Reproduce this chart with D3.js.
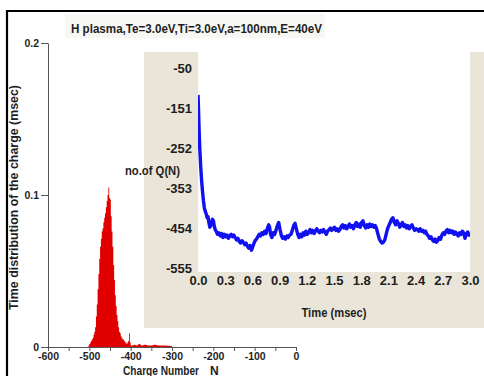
<!DOCTYPE html>
<html><head><meta charset="utf-8">
<script src="https://cdn.jsdelivr.net/npm/d3@7/dist/d3.min.js"></script>
<style>
body{margin:0;background:#fff}
svg{display:block}
text{font-family:"Liberation Sans Narrow","Arial Narrow","Liberation Sans",Arial,sans-serif;font-weight:bold;fill:#1e1e1e}
</style></head>
<body><svg id="c" width="484" height="376"></svg>
<script>
// ---- main histogram data (charge number N, time distribution in msec) ----
const histBins = [-504,-502,-500,-498,-496,-494,-492,-490,-488,-486,-484,-482,-480,-478,-476,-474,-472,-470,-468,-466,-464,-462,-460,-458,-456,-454,-452,-450,-448,-446,-444,-442,-440,-438,-436,-434,-432,-430,-428,-426,-424,-422,-420,-418,-416,-414,-412,-410,-408,-406,-404,-402,-400,-398,-396,-392,-386,-380,-374,-366,-358,-350,-342,-334,-326,-318,-310,-302];
const histValues = [0.000,0.001,0.002,0.003,0.004,0.005,0.006,0.008,0.010,0.013,0.020,0.028,0.038,0.048,0.058,0.066,0.071,0.076,0.078,0.082,0.085,0.088,0.092,0.096,0.100,0.105,0.098,0.097,0.086,0.076,0.066,0.054,0.044,0.034,0.027,0.021,0.017,0.013,0.010,0.009,0.007,0.006,0.005,0.005,0.004,0.003,0.003,0.002,0.003,0.004,0.009,0.003,0.001,0.001,0.001,0.0015,0.001,0.002,0.001,0.0015,0.001,0.001,0.0015,0.001,0.001,0.001,0.0008,0.0006];
const histBinWidth = 2;
const histXTicks = [-600,-500,-400,-300,-200,-100,0];
const histXMinor = [-550,-450,-350,-250,-150,-50];
const histYTicks = [0,0.1,0.2];

// ---- inset: no. of Q(N) vs time ----
const times = [0.000,0.005,0.010,0.015,0.020,0.030,0.040,0.050,0.060,0.070,0.080,0.090,0.100,0.110,0.120,0.130,0.140,0.150,0.160,0.170,0.180,0.190,0.200,0.215,0.230,0.245,0.260,0.275,0.290,0.305,0.320,0.335,0.350,0.365,0.380,0.395,0.410,0.425,0.440,0.455,0.470,0.485,0.500,0.515,0.530,0.545,0.560,0.575,0.590,0.600,0.615,0.630,0.645,0.660,0.675,0.690,0.705,0.720,0.735,0.750,0.765,0.780,0.790,0.800,0.815,0.830,0.845,0.860,0.875,0.890,0.905,0.920,0.935,0.950,0.965,0.980,0.995,1.010,1.025,1.040,1.055,1.070,1.085,1.100,1.115,1.130,1.145,1.160,1.175,1.190,1.205,1.220,1.235,1.250,1.265,1.280,1.295,1.310,1.325,1.340,1.355,1.370,1.385,1.400,1.415,1.430,1.445,1.460,1.475,1.490,1.505,1.520,1.535,1.550,1.565,1.580,1.595,1.610,1.625,1.640,1.655,1.670,1.685,1.700,1.715,1.730,1.745,1.760,1.775,1.790,1.805,1.820,1.835,1.850,1.865,1.880,1.895,1.910,1.925,1.940,1.955,1.970,1.985,2.000,2.015,2.030,2.045,2.060,2.075,2.090,2.105,2.120,2.135,2.150,2.165,2.180,2.195,2.210,2.225,2.240,2.255,2.270,2.285,2.300,2.315,2.330,2.345,2.360,2.375,2.390,2.405,2.420,2.435,2.450,2.465,2.480,2.495,2.510,2.525,2.540,2.555,2.570,2.585,2.600,2.615,2.630,2.645,2.660,2.675,2.690,2.705,2.720,2.735,2.750,2.765,2.780,2.795,2.810,2.825,2.840,2.855,2.870,2.885,2.900,2.915,2.930,2.945,2.960,2.975,2.990,3.000];
const charges = [-118,-150,-190,-225,-255,-300,-335,-362,-385,-403,-412,-418,-428,-425,-440,-452,-448,-440,-432,-436,-450,-458,-462,-470,-466,-474,-468,-478,-470,-476,-472,-480,-474,-470,-476,-472,-478,-484,-480,-488,-492,-486,-490,-496,-492,-500,-505,-498,-510,-504,-494,-486,-482,-476,-470,-474,-466,-470,-462,-468,-455,-446,-452,-470,-478,-466,-470,-460,-448,-440,-458,-474,-480,-476,-482,-474,-478,-472,-470,-460,-448,-442,-456,-470,-478,-470,-476,-466,-472,-462,-470,-466,-458,-466,-460,-468,-462,-456,-462,-466,-460,-464,-458,-464,-470,-462,-458,-454,-460,-456,-452,-460,-456,-462,-458,-450,-446,-454,-448,-456,-450,-444,-452,-448,-456,-446,-440,-450,-444,-452,-440,-436,-448,-454,-446,-452,-444,-450,-446,-452,-448,-456,-470,-482,-488,-492,-490,-484,-470,-456,-448,-440,-432,-428,-440,-446,-436,-442,-452,-446,-440,-450,-446,-454,-448,-456,-450,-446,-454,-460,-456,-458,-462,-456,-462,-460,-466,-462,-470,-474,-480,-476,-484,-488,-482,-490,-486,-478,-482,-472,-466,-470,-462,-458,-466,-460,-466,-462,-470,-464,-470,-474,-466,-470,-462,-466,-480,-470,-464,-472,-466,-468];
const insetXTicks = [0,0.3,0.6,0.9,1.2,1.5,1.8,2.1,2.4,2.7,3.0];
const insetYTicks = [-50,-151,-252,-353,-454,-555];

const svg = d3.select("#c");
const hy = d => String(d).replace("\u2212","-");

// outer frame (left + top)
svg.append("line").attr("x1",7).attr("y1",10).attr("x2",7).attr("y2",376).attr("stroke","#000").attr("stroke-width",2.2);
svg.append("line").attr("x1",6).attr("y1",11).attr("x2",484).attr("y2",11).attr("stroke","#000").attr("stroke-width",2.2);

// title box
svg.append("rect").attr("x",65).attr("y",14).attr("width",260).attr("height",24).attr("fill","#f7f7f4");
svg.append("text").attr("x",71).attr("y",32.5).attr("font-size",13)
  .attr("textLength",251).attr("lengthAdjust","spacingAndGlyphs")
  .text("H plasma,Te=3.0eV,Ti=3.0eV,a=100nm,E=40eV");

// ---- main histogram ----
const xMain = d3.scaleLinear().domain([-600,0]).range([48,296]);
const yMain = d3.scaleLinear().domain([0,0.2]).range([347,43]);

const histData = histBins.map((b,i)=>({b,v:histValues[i]}));
// bars as a continuous step outline (avoids hairline gaps between narrow bars)
const stepPts = [];
histData.forEach(d=>{ stepPts.push([d.b,d.v]); stepPts.push([d.b+histBinWidth,d.v]); });
svg.append("path").datum(stepPts)
  .attr("d",d3.area().x(d=>xMain(d[0])).y0(yMain(0)).y1(d=>yMain(d[1])))
  .attr("fill","#e00000");

const gy = svg.append("g").attr("transform","translate(48,0)")
  .call(d3.axisLeft(yMain).tickValues(histYTicks).tickSize(7).tickSizeOuter(0).tickPadding(2)
    .tickFormat(d=>d===0?"0":d3.format(".1f")(d)));
const gx = svg.append("g").attr("transform","translate(0,347)")
  .call(d3.axisBottom(xMain).tickValues(histXTicks).tickSize(4).tickSizeOuter(0).tickPadding(2).tickFormat(hy));
svg.append("g").attr("transform","translate(0,347)")
  .call(d3.axisBottom(xMain).tickValues(histXMinor).tickSize(4).tickFormat(""))
  .select(".domain").remove();
svg.selectAll(".domain, .tick line").attr("stroke","#555");
gy.selectAll("text").attr("font-size",10.5).attr("font-family",null);
gx.selectAll("text").attr("font-size",10.5).attr("font-family",null);

svg.append("text").attr("transform","translate(18,197.5) rotate(-90)")
  .attr("text-anchor","middle").attr("font-size",12.5).attr("fill","#333")
  .attr("textLength",225).attr("lengthAdjust","spacingAndGlyphs")
  .text("Time distribution of the charge (msec)");
svg.append("text").attr("x",123).attr("y",374.5).attr("font-size",12)
  .attr("textLength",76).attr("lengthAdjust","spacingAndGlyphs").text("Charge Number");
svg.append("text").attr("x",210).attr("y",374.5).attr("font-size",12).text("N");

// ---- inset ----
svg.append("rect").attr("x",144).attr("y",52).attr("width",340).attr("height",276).attr("fill","#e9e5d8");
svg.append("rect").attr("x",198).attr("y",52).attr("width",272).attr("height",220).attr("fill","#ffffff");

const xIn = d3.scaleLinear().domain([0,3]).range([198,470]);
const yIn = d3.scaleLinear().domain([-555,-50]).range([268,68]);

svg.append("defs").append("clipPath").attr("id","clipIn")
  .append("rect").attr("x",198).attr("y",52).attr("width",272).attr("height",220);

svg.append("path").datum(times.map((t,i)=>[t,charges[i]]))
  .attr("clip-path","url(#clipIn)")
  .attr("d",d3.line().x(d=>xIn(d[0])).y(d=>yIn(d[1])))
  .attr("fill","none").attr("stroke","#1010f0").attr("stroke-width",3.4).attr("stroke-linejoin","round");

const giy = svg.append("g").attr("transform","translate(198,0)")
  .call(d3.axisLeft(yIn).tickValues(insetYTicks).tickSize(2).tickPadding(4).tickFormat(hy));
giy.select(".domain").remove();
giy.selectAll(".tick line").attr("stroke","#ddd");
giy.selectAll("text").attr("font-size",13).attr("font-family",null);

const gix = svg.append("g").attr("transform","translate(0,272)")
  .call(d3.axisBottom(xIn).tickValues(insetXTicks).tickSize(0).tickPadding(4).tickFormat(d3.format(".1f")));
gix.select(".domain").remove();
gix.selectAll("text").attr("font-size",13).attr("font-family",null);

svg.append("text").attr("x",334).attr("y",317).attr("text-anchor","middle").attr("font-size",13.5)
  .attr("textLength",65).attr("lengthAdjust","spacingAndGlyphs").text("Time (msec)");
svg.append("text").attr("x",125).attr("y",174.5).attr("font-size",12.5)
  .attr("textLength",55).attr("lengthAdjust","spacingAndGlyphs").text("no.of Q(N)");
</script></body></html>
